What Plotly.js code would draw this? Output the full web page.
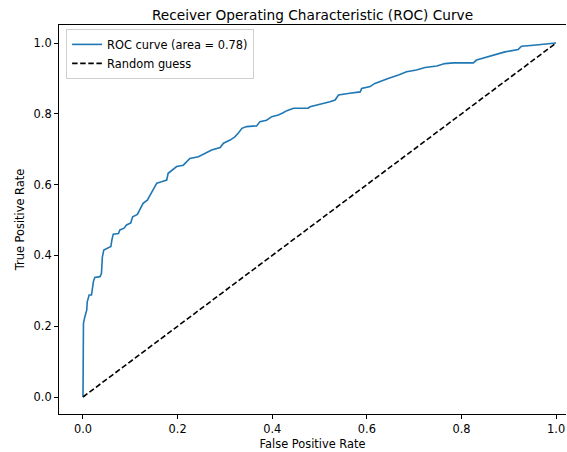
<!DOCTYPE html>
<html>
<head>
<meta charset="utf-8">
<script src="https://cdn.plot.ly/plotly-3.0.1.min.js"></script>
<style>html,body{margin:0;padding:0;overflow:hidden;background:#fff}#chart{width:567px;height:452px}</style>
</head>
<body>
<div id="chart"></div>
<script>
const fpr = [0,0,0.001,0.004,0.008,0.009,0.013,0.018,0.020,0.022,0.025,0.036,0.039,0.041,0.044,0.053,0.059,0.061,0.064,0.075,0.078,0.087,0.092,0.101,0.105,0.115,0.121,0.127,0.136,0.142,0.147,0.156,0.166,0.177,0.180,0.188,0.198,0.212,0.219,0.226,0.244,0.258,0.272,0.290,0.297,0.311,0.321,0.328,0.336,0.346,0.367,0.374,0.388,0.399,0.413,0.423,0.431,0.445,0.476,0.480,0.497,0.512,0.522,0.533,0.540,0.564,0.586,0.589,0.607,0.617,0.632,0.645,0.667,0.684,0.705,0.723,0.748,0.765,0.783,0.825,0.832,0.846,0.868,0.892,0.920,0.927,0.952,0.973,1.0];
const tpr = [0,0.109,0.208,0.227,0.246,0.269,0.288,0.288,0.312,0.326,0.338,0.340,0.349,0.396,0.415,0.420,0.425,0.443,0.460,0.462,0.472,0.477,0.486,0.492,0.509,0.516,0.533,0.547,0.556,0.571,0.585,0.604,0.608,0.613,0.632,0.641,0.651,0.655,0.665,0.674,0.679,0.688,0.698,0.705,0.717,0.726,0.735,0.745,0.759,0.764,0.766,0.778,0.782,0.792,0.797,0.803,0.809,0.816,0.816,0.820,0.825,0.830,0.834,0.839,0.853,0.858,0.862,0.872,0.877,0.886,0.894,0.900,0.910,0.919,0.924,0.931,0.935,0.942,0.944,0.944,0.952,0.957,0.966,0.975,0.982,0.991,0.994,0.997,1.0];
const diagX = [0,1];
const diagY = [0,1];
const rocLabel = 'ROC curve (area = 0.78)';
const diagLabel = 'Random guess';
const ticks = [0,0.2,0.4,0.6,0.8,1.0];

const font = {family: 'DejaVu Sans, sans-serif', size: 11.4, color: '#000'};
const traces = [
  {x: fpr, y: tpr, mode: 'lines', name: rocLabel, line: {color: '#1f77b4', width: 1.6}},
  {x: diagX, y: diagY, mode: 'lines', name: diagLabel, line: {color: '#000', width: 1.6, dash: '5.5px,2.6px'}}
];
const axisCommon = {
  showgrid: false, zeroline: false, showline: true, linecolor: '#000', linewidth: 1,
  ticks: 'outside', ticklen: 4, tickwidth: 1, tickcolor: '#000',
  tickvals: ticks, tickformat: '.1f', tickfont: font
};
const layout = {
  width: 567, height: 452,
  margin: {l: 59, r: 1, t: 25, b: 38},
  paper_bgcolor: '#fff', plot_bgcolor: '#fff',
  font: font,
  title: {text: 'Receiver Operating Characteristic (ROC) Curve', font: {family: font.family, size: 13.7, color: '#000'}, x: 0.5, xref: 'paper', xanchor: 'center', y: 1, yref: 'paper', yanchor: 'bottom', pad: {b: 5}},
  xaxis: Object.assign({}, axisCommon, {range: [-0.0507, 1.021], mirror: true, title: {text: 'False Positive Rate', font: font, standoff: 5}}),
  yaxis: Object.assign({}, axisCommon, {range: [-0.048, 1.051], title: {text: 'True Positive Rate', font: font, standoff: 6}}),
  showlegend: true,
  legend: {x: 0.014, y: 0.99, xanchor: 'left', yanchor: 'top', bgcolor: 'rgba(255,255,255,0.8)', bordercolor: '#d0d0d0', borderwidth: 1, font: font, tracegroupgap: 0, itemwidth: 30}
};
Plotly.newPlot('chart', traces, layout, {displayModeBar: false, staticPlot: true});
</script>
</body>
</html>
